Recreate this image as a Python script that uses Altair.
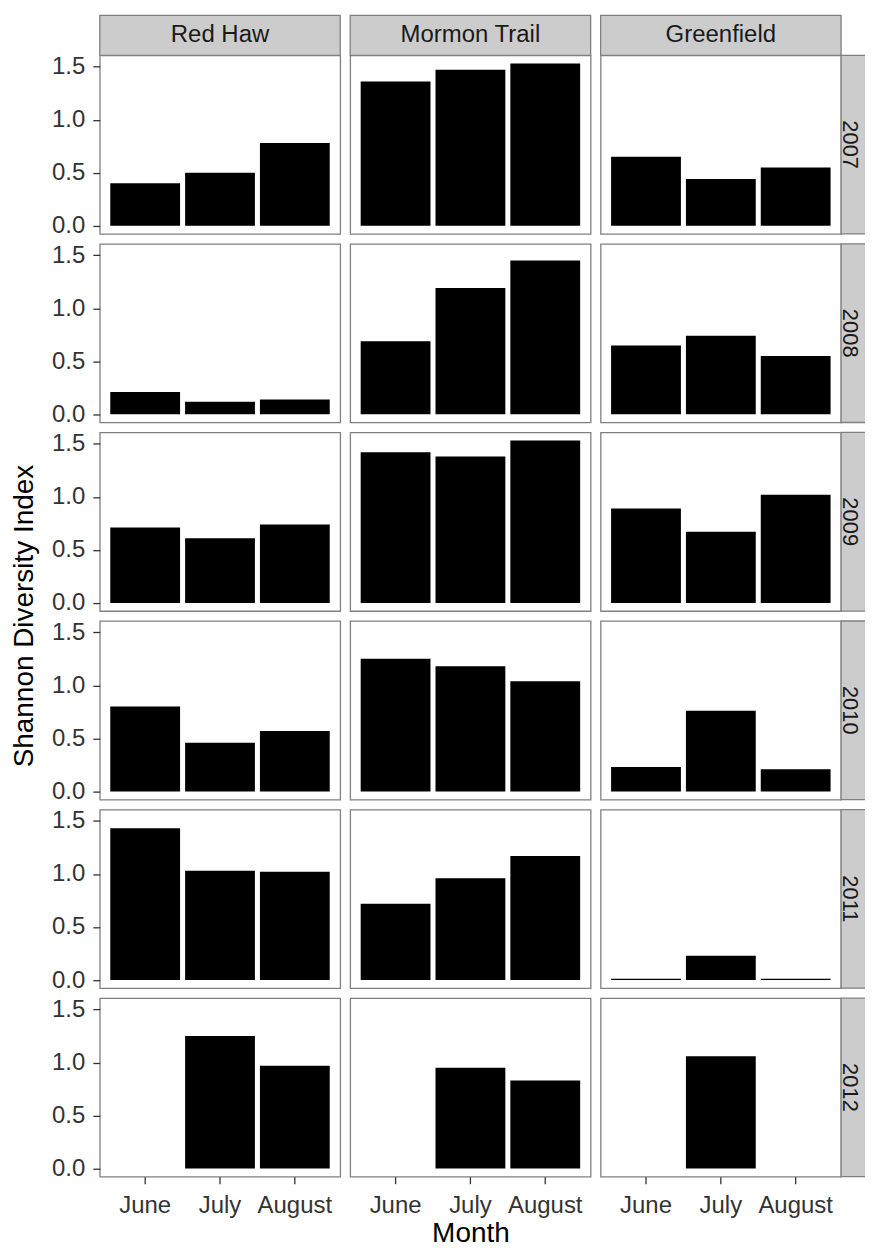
import altair as alt
import pandas as pd

sites = ["Red Haw", "Mormon Trail", "Greenfield"]
years = ["2007", "2008", "2009", "2010", "2011", "2012"]
months = ["June", "July", "August"]

# Shannon diversity index, rows = years, columns = June, July, August
red_haw = [
    [0.40, 0.50, 0.78],
    [0.21, 0.12, 0.14],
    [0.71, 0.61, 0.74],
    [0.80, 0.46, 0.57],
    [1.43, 1.03, 1.02],
    [None, 1.25, 0.97],
]
mormon_trail = [
    [1.36, 1.47, 1.53],
    [0.69, 1.19, 1.45],
    [1.42, 1.38, 1.53],
    [1.25, 1.18, 1.04],
    [0.72, 0.96, 1.17],
    [None, 0.95, 0.83],
]
greenfield = [
    [0.65, 0.44, 0.55],
    [0.65, 0.74, 0.55],
    [0.89, 0.67, 1.02],
    [0.23, 0.76, 0.21],
    [0.012, 0.23, 0.012],
    [None, 1.06, None],
]

x_title = "Month"
y_title = "Shannon Diversity Index"

series = {"Red Haw": red_haw, "Mormon Trail": mormon_trail, "Greenfield": greenfield}
rows = []
for s in sites:
    for yi, yr in enumerate(years):
        for mi, m in enumerate(months):
            v = series[s][yi][mi]
            if v is not None:
                rows.append({"site": s, "year": yr, "month": m, "value": v})
df = pd.DataFrame(rows)

FONT = "Liberation Sans"
W, H = 241, 179
GAP = 10
HEAD = 40
STRIP = 22
OVER = 10  # strip continues past the right edge and is cut off, as in the original
BORDER = "#808080"
STRIP_FILL = "#CCCCCC"

x_scale = alt.Scale(domain=months, paddingInner=0.067, paddingOuter=0.14)
y_scale = alt.Scale(domain=[-0.0765, 1.6065], nice=False, zero=False)


def panel(si, yi):
    s, yr = sites[si], years[yi]
    base = alt.Chart(df).transform_filter(
        (alt.datum.site == s) & (alt.datum.year == yr)
    )
    if yi == len(years) - 1:
        xaxis = alt.Axis(
            title=x_title if si == 1 else None,
            labelAngle=0,
            tickSize=7,
            labelPadding=10,
            titlePadding=2,
        )
    else:
        xaxis = None
    if si == 0:
        yaxis = alt.Axis(
            title=None,
            values=[0, 0.5, 1.0, 1.5],
            format=".1f",
            tickSize=7,
            labelPadding=8,
        )
    else:
        yaxis = None
    bars = base.mark_bar(color="black").encode(
        x=alt.X("month:N", sort=months, scale=x_scale, axis=xaxis),
        y=alt.Y("value:Q", scale=y_scale, axis=yaxis),
    )
    layers = [bars]
    if yi == 0:
        hdf = pd.DataFrame({"label": [s]})
        layers.append(
            alt.Chart(hdf).mark_rect(fill=STRIP_FILL, stroke=BORDER, strokeWidth=1.3).encode(
                x=alt.value(0), x2=alt.value(W), y=alt.value(-HEAD), y2=alt.value(0)
            )
        )
        layers.append(
            alt.Chart(hdf).mark_text(font=FONT, fontSize=24, color="#1A1A1A", baseline="middle", align="center").encode(
                text="label:N", x=alt.value(W / 2), y=alt.value(-HEAD / 2)
            )
        )
    if si == len(sites) - 1:
        sdf = pd.DataFrame({"label": [yr]})
        layers.append(
            alt.Chart(sdf).mark_rect(fill=STRIP_FILL, stroke=BORDER, strokeWidth=1.3).encode(
                x=alt.value(W), x2=alt.value(W + STRIP + OVER), y=alt.value(0), y2=alt.value(H)
            )
        )
        layers.append(
            alt.Chart(sdf).mark_text(font=FONT, fontSize=22, color="#1A1A1A", angle=90, baseline="middle", align="center").encode(
                text="label:N", x=alt.value(W + 8.5), y=alt.value(H / 2)
            )
        )
    if si == 0 and yi == 2:
        tdf = pd.DataFrame({"t": [y_title]})
        layers.append(
            alt.Chart(tdf).mark_text(font=FONT, fontSize=28, color="black", angle=270, baseline="middle", align="center").encode(
                text="t:N", x=alt.value(-75), y=alt.value(H + GAP / 2)
            )
        )
    return alt.layer(*layers).properties(width=W, height=H)


chart = (
    alt.concat(
        *[panel(si, yi) for yi in range(len(years)) for si in range(len(sites))],
        columns=len(sites),
        spacing=GAP,
        bounds="flush",
    )
    .properties(padding={"left": 2, "top": 4, "right": -OVER, "bottom": 0})
    .configure_view(stroke=BORDER, strokeWidth=1.3)
    .configure_axis(
        labelFont=FONT,
        labelFontSize=24,
        labelColor="#333333",
        tickColor="#333333",
        tickWidth=1.3,
        domain=False,
        grid=False,
        titleFont=FONT,
        titleFontSize=28,
        titleFontWeight="normal",
        titleColor="black",
    )
)

chart.save("out.html", embed_options={"renderer": "svg", "actions": False})
